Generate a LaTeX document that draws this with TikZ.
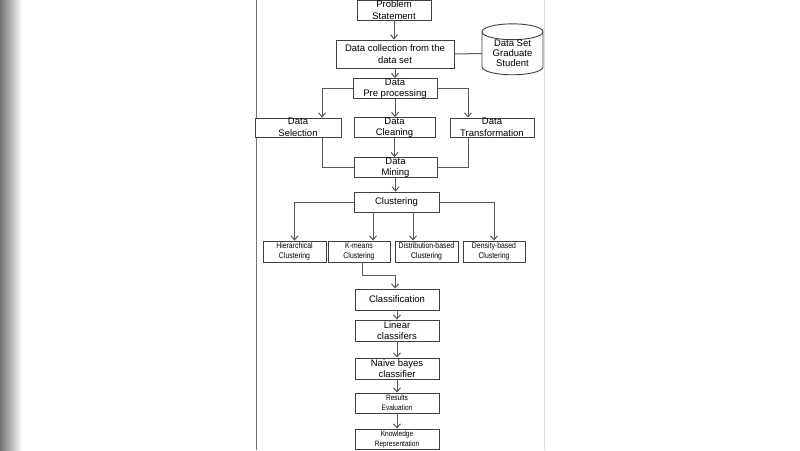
\documentclass[tikz,border=0pt]{standalone}
\usepackage{fontspec}
\setmainfont{Liberation Sans}
\newfontfamily\narrowfont[FakeStretch=0.84]{Liberation Sans}
\usepackage{tikz}
\usetikzlibrary{positioning, shapes.geometric, arrows.meta}

\begin{document}
\begin{tikzpicture}[x=1pt, y=-1pt,
    box/.style={draw=black!75, line width=0.9pt, rectangle, fill=white, inner sep=0pt, align=center,
                font=\fontsize{9.5}{11.5}\selectfont},
    smallbox/.style={box, font=\narrowfont\fontsize{8.2}{10}\selectfont},
    tinybox/.style={box, font=\narrowfont\fontsize{7.8}{10}\selectfont},
    line/.style={draw=black!65, line width=1pt},
    >={Straight Barb[length=4pt, width=7pt]}]
        \useasboundingbox (0,0) rectangle (800,450);
        % Page
        \fill[white] (0,0) rectangle (800,450);
        \shade[left color=black!55, right color=white] (0,0) rectangle (22,450);
        \draw[black!55, line width=1pt] (256,0) -- (256,450);
        \draw[black!12, line width=1pt] (544.5,0) -- (544.5,450);

        % Nodes
        \node (prob) [box, minimum width=74, minimum height=20] at (394,10) {Problem\\Statement};
        \node (coll) [box, minimum width=118, minimum height=28] at (395,54) {Data collection from the\\data set};
        \node (dset) [draw=black!75, line width=0.9pt, cylinder, shape border rotate=90, aspect=0.4,
                      minimum width=61, minimum height=41, inner sep=0pt, align=center,
                      font=\fontsize{9.5}{10}\selectfont] at (512.5,53.5) {Data Set\\Graduate\\Student};
        \node (prep) [box, minimum width=84, minimum height=19] at (395,88.5) {Data\\Pre processing};

        \node (sel) [box, minimum width=86, minimum height=19] at (298,127.5) {Data\\Selection};
        \node (clean) [box, minimum width=81, minimum height=19] at (394.5,127.5) {Data\\Cleaning};
        \node (trans) [box, minimum width=84, minimum height=19] at (492,127.5) {Data\\Transformation};

        \node (mine) [box, minimum width=83, minimum height=19] at (395.5,167.5) {Data\\Mining};
        \node (clus) [box, minimum width=85, minimum height=20] at (396.5,202) {Clustering};

        \node (hier) [smallbox, minimum width=63, minimum height=21] at (294.5,251.5) {Hierarchical\\Clustering};
        \node (kmeans) [smallbox, minimum width=62, minimum height=21] at (359,251.5) {K-means\\Clustering};
        \node (dist) [smallbox, minimum width=63, minimum height=21] at (426.5,251.5) {Distribution-based\\Clustering};
        \node (dens) [smallbox, minimum width=62, minimum height=21] at (494,251.5) {Density-based\\Clustering};

        \node (cls) [box, minimum width=84, minimum height=21] at (397,299.5) {Classification};
        \node (lin) [box, minimum width=84, minimum height=21] at (397,330.5) {Linear\\classifers};
        \node (nb) [box, minimum width=84, minimum height=21] at (397,368.5) {Naive bayes\\classifier};
        \node (res) [tinybox, minimum width=84, minimum height=20] at (397,403) {Results\\Evaluation};
        \node (know) [tinybox, minimum width=84, minimum height=20] at (397,439) {Knowledge\\Representation};

        % Arrows
        \draw[line, ->] (prob.south) -- (prob.south |- coll.north);
        \draw[line] (coll.east) -- (dset.west);
        \draw[line, ->] (coll.south) -- (coll.south |- prep.north);

        \draw[line, ->] (prep.west) -| ([xshift=24pt]sel.north);
        \draw[line, ->] (prep.south) -- (prep.south |- clean.north);
        \draw[line, ->] (prep.east) -| ([xshift=-24pt]trans.north);

        \draw[line] ([xshift=24pt]sel.south) |- (mine.west);
        \draw[line, ->] (clean.south) -- (clean.south |- mine.north);
        \draw[line] ([xshift=-24pt]trans.south) |- (mine.east);

        \draw[line, ->] (mine.south) -- (mine.south |- clus.north);

        \draw[line, ->] (clus.west) -| (hier.north);
        \draw[line, ->] ([xshift=14pt]kmeans.north |- clus.south) -- ([xshift=14pt]kmeans.north);
        \draw[line, ->] ([xshift=-13.5pt]dist.north |- clus.south) -- ([xshift=-13.5pt]dist.north);
        \draw[line, ->] (clus.east) -| (dens.north);

        \draw[line, ->] ([xshift=3pt]kmeans.south) -- ++(0,13) -| ([xshift=-2pt]cls.north);
        \draw[line, ->] (cls.south) -- (lin.north);
        \draw[line, ->] (lin.south) -- (nb.north);
        \draw[line, ->] (nb.south) -- (res.north);
        \draw[line, ->] (res.south) -- (know.north);

    \end{tikzpicture}
\end{document}
